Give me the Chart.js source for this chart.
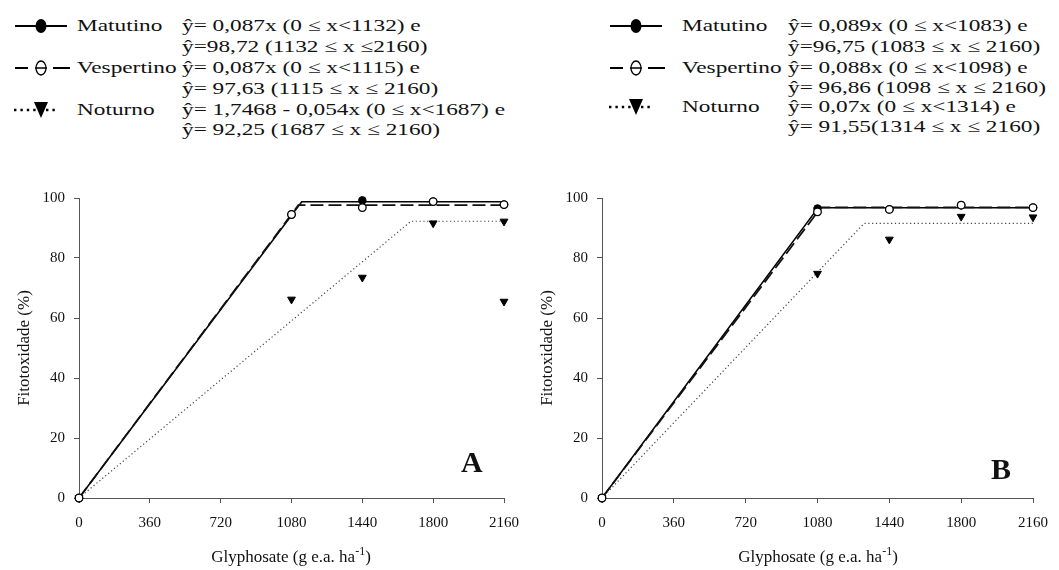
<!DOCTYPE html>
<html>
<head>
<meta charset="utf-8">
<script src="https://cdn.jsdelivr.net/npm/chart.js@4.4.1/dist/chart.umd.min.js"></script>
<style>
  body { margin: 0; background: #fff; width: 1059px; height: 570px; position: relative; overflow: hidden;
         font-family: "Liberation Serif", "Times New Roman", serif; color: #111; }
  canvas { position: absolute; }
  .txt { position: absolute; white-space: nowrap; font-size: 17px; line-height: 20px;
         transform: scaleX(1.37); transform-origin: 0 50%; }
  .glyph { position: absolute; }
  .xtitle { position: absolute; white-space: nowrap; font-size: 17px; line-height: 20px; transform: translateX(-50%); }
  .xtitle sup { font-size: 12px; vertical-align: 7px; }
  .panel { position: absolute; font-size: 30px; font-weight: bold; line-height: 30px; }
</style>
</head>
<body>
<canvas id="chartA" width="530" height="390" style="left:0;top:180px"></canvas>
<canvas id="chartB" width="536" height="390" style="left:523px;top:180px"></canvas>

<script>
// dose levels and axis ticks
const doses = [0, 1080, 1440, 1800, 2160];
const xTicks = [0, 360, 720, 1080, 1440, 1800, 2160];
const yTicks = [0, 20, 40, 60, 80, 100];
const seriesNames = ["Matutino", "Vespertino", "Noturno"];

// panel A observed values
const matutinoA = [0, 94.5, 99.2, 98.8, 97.8];
const vespertinoA = [0, 94.5, 96.8, 98.8, 97.8];
const noturnoDosesA = [0, 1080, 1440, 1800, 2160, 2160];
const noturnoA = [0, 66.2, 73.5, 91.6, 92.2, 65.5];
// panel A fitted models (break point, plateau)
const breaksA = [1132, 1115, 1687];
const plateausA = [98.72, 97.63, 92.25];

// panel B observed values
const matutinoB = [0, 96.5, 96.2, 97.6, 96.8];
const vespertinoB = [0, 95.4, 96.2, 97.6, 96.8];
const noturnoDosesB = [0, 1080, 1440, 1800, 2160];
const noturnoB = [0, 74.8, 86.2, 93.8, 93.6];
const breaksB = [1083, 1098, 1314];
const plateausB = [96.75, 96.86, 91.55];

const equationsA = [
  ["ŷ= 0,087x (0 ≤ x<1132) e", "ŷ=98,72 (1132 ≤ x ≤2160)"],
  ["ŷ= 0,087x (0 ≤ x<1115) e", "ŷ= 97,63 (1115 ≤ x ≤ 2160)"],
  ["ŷ= 1,7468 - 0,054x (0 ≤ x<1687) e", "ŷ= 92,25 (1687 ≤ x ≤ 2160)"]
];
const equationsB = [
  ["ŷ= 0,089x (0 ≤ x<1083) e", "ŷ=96,75 (1083 ≤ x ≤ 2160)"],
  ["ŷ= 0,088x (0 ≤ x<1098) e", "ŷ= 96,86 (1098 ≤ x ≤ 2160)"],
  ["ŷ= 0,07x (0 ≤ x<1314) e", "ŷ= 91,55(1314 ≤ x ≤ 2160)"]
];

const lineStyles = [
  { color: "#000", width: 1.5, dash: [] },
  { color: "#111", width: 1.8, dash: [13, 5] },
  { color: "#444", width: 1.2, dash: [1.2, 2.6] }
];

const serif = '"Liberation Serif", "Times New Roman", serif';
Chart.defaults.font.family = serif;

function toPoints(xs, ys) {
  return ys.map((y, i) => ({ x: xs[i], y: y }));
}

function fitLine(brk, plateau) {
  return [{ x: 0, y: 0 }, { x: brk, y: plateau }, { x: 2160, y: plateau }];
}

function makeChart(id, mat, ves, notX, notY, breaks, plateaus) {
  const lines = breaks.map((b, i) => ({
    data: fitLine(b, plateaus[i]),
    showLine: true,
    pointRadius: 0,
    borderColor: lineStyles[i].color,
    borderWidth: lineStyles[i].width,
    borderDash: lineStyles[i].dash,
    clip: false,
    order: 5 - i
  }));

  const marks = [
    { data: toPoints(notX, notY), pointStyle: "triangle", rotation: 180, pointRadius: 4.5,
      backgroundColor: "#000", borderColor: "#000", borderWidth: 1, showLine: false, clip: false, order: 2 },
    { data: toPoints(doses, mat), pointStyle: "circle", pointRadius: 3.8,
      backgroundColor: "#000", borderColor: "#000", borderWidth: 1, showLine: false, clip: false, order: 1 },
    { data: toPoints(doses, ves), pointStyle: "circle", pointRadius: 3.8,
      backgroundColor: "#fff", borderColor: "#000", borderWidth: 1.3, showLine: false, clip: false, order: 0 }
  ];

  new Chart(document.getElementById(id), {
    type: "scatter",
    data: { datasets: lines.concat(marks) },
    options: {
      responsive: false,
      animation: false,
      layout: { padding: { top: 11, right: 26, left: 0, bottom: 0 } },
      plugins: { legend: { display: false }, tooltip: { enabled: false } },
      scales: {
        x: {
          type: "linear", min: 0, max: 2160,
          afterBuildTicks: s => { s.ticks = xTicks.map(v => ({ value: v })); },
          afterFit: s => { s.height = 72; },
          grid: { drawOnChartArea: false, drawTicks: true, tickLength: 5, color: "#555" },
          border: { color: "#555", width: 1 },
          ticks: { font: { family: serif, size: 15 }, color: "#111", padding: 11, maxRotation: 0,
                   callback: v => String(v) }
        },
        y: {
          type: "linear", min: 0, max: 100,
          afterBuildTicks: s => { s.ticks = yTicks.map(v => ({ value: v })); },
          afterFit: s => { s.width = 79; },
          grid: { drawOnChartArea: false, drawTicks: true, tickLength: 5, color: "#555" },
          border: { color: "#555", width: 1 },
          ticks: { font: { family: serif, size: 15 }, color: "#111", padding: 9,
                   callback: v => String(v) },
          title: { display: true, text: "Fitotoxidade (%)", color: "#111",
                   font: { family: serif, size: 17 }, padding: { top: 14, bottom: 0 } }
        }
      }
    }
  });
}

// legend glyphs
function glyphSvg(kind) {
  let s = '<svg width="60" height="20" xmlns="http://www.w3.org/2000/svg">';
  if (kind === 0) {
    s += '<line x1="2" y1="10" x2="54" y2="10" stroke="#000" stroke-width="2"/>';
    s += '<ellipse cx="28" cy="10" rx="5.5" ry="7" fill="#000"/>';
  } else if (kind === 1) {
    s += '<line x1="2" y1="10" x2="15" y2="10" stroke="#000" stroke-width="2"/>';
    s += '<line x1="22" y1="10" x2="34" y2="10" stroke="#000" stroke-width="1.5"/>';
    s += '<line x1="40" y1="10" x2="57" y2="10" stroke="#000" stroke-width="2"/>';
    s += '<ellipse cx="28" cy="10" rx="5" ry="7" fill="none" stroke="#000" stroke-width="1.3"/>';
  } else {
    s += '<line x1="1" y1="10" x2="44" y2="10" stroke="#000" stroke-width="2.4" stroke-dasharray="2.4,4"/>';
    s += '<polygon points="21,2 35,2 28,18" fill="#000"/>';
  }
  return s + '</svg>';
}

function addText(cls, text, left, centerY) {
  const d = document.createElement("div");
  d.className = cls;
  d.textContent = text;
  d.style.left = left + "px";
  d.style.top = (centerY - 10) + "px";
  document.body.appendChild(d);
}

function addLegend(glyphX, nameX, eqX, rows, equations) {
  seriesNames.forEach((name, i) => {
    const g = document.createElement("div");
    g.className = "glyph";
    g.innerHTML = glyphSvg(i);
    g.style.left = glyphX + "px";
    g.style.top = (rows[i * 2] - 10) + "px";
    document.body.appendChild(g);
    addText("txt", name, nameX, rows[i * 2]);
    addText("txt", equations[i][0], eqX, rows[i * 2]);
    addText("txt", equations[i][1], eqX, rows[i * 2 + 1]);
  });
}

addLegend(13, 77, 182, [26, 47, 68, 89, 110, 130], equationsA);
addLegend(608, 682, 788, [26, 47, 68, 88, 107, 127], equationsB);

// x axis titles and panel letters
function addXTitle(cx) {
  const d = document.createElement("div");
  d.className = "xtitle";
  d.innerHTML = "Glyphosate (g e.a. ha<sup>-1</sup>)";
  d.style.left = cx + "px";
  d.style.top = "541px";
  document.body.appendChild(d);
}
addXTitle(291);
addXTitle(818);

function addPanel(letter, left, top) {
  const d = document.createElement("div");
  d.className = "panel";
  d.textContent = letter;
  d.style.left = left + "px";
  d.style.top = top + "px";
  document.body.appendChild(d);
}
addPanel("A", 461, 447);
addPanel("B", 991, 454);

// wait for the serif font so the canvas text does not fall back
Promise.all([
  document.fonts.load('15px "Liberation Serif"'),
  document.fonts.load('17px "Liberation Serif"')
]).catch(() => {}).then(() => {
  makeChart("chartA", matutinoA, vespertinoA, noturnoDosesA, noturnoA, breaksA, plateausA);
  makeChart("chartB", matutinoB, vespertinoB, noturnoDosesB, noturnoB, breaksB, plateausB);
});
</script>
</body>
</html>
